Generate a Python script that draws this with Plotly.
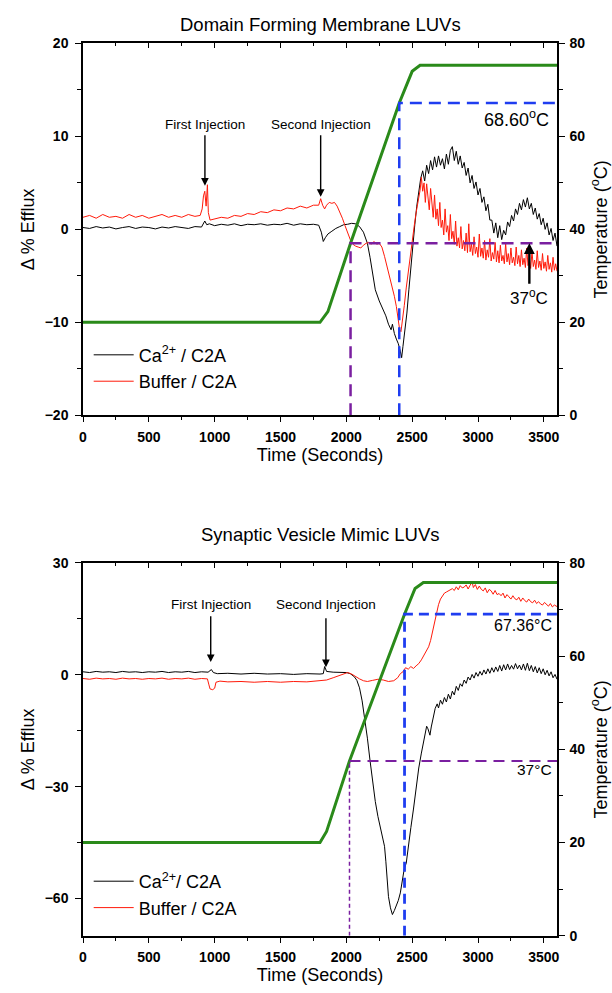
import plotly.graph_objects as go

# ---------------- data: top panel (Domain Forming Membrane LUVs) ----------------
top_ca_t = [0,50,100,150,200,250,300,350,400,450,500,550,600,650,700,750,800,850,900,925,940,960,
            1000,1050,1100,1150,1200,1250,1300,1350,1400,1450,1500,1550,1600,1650,1700,1750,1790,1810,1825,1840,1860,1890,1920,1950,1980,
            2010,2040,2070,2100,2130,2160,2180,2200,2220,2250,2280,2300,2320,2340,2350,2365,2380,2395,2410,2420,2430,2445,2460,2475,2490,
            2505,2520,2535,2550,2565,2580,2595,2610,2625,2640,2655,2670,2685,2700,2715,2730,2745,2760,2775,2790,2805,2820,2835,2850,2865,
            2880,2895,2910,2925,2940,2955,2970,2985,3000,3015,3030,3045,3060,3075,3090,3105,3120,3135,3150,3165,3180,3195,3210,3225,3240,
            3255,3270,3285,3300,3315,3330,3345,3360,3375,3390,3405,3420,3435,3450,3465,3480,3495,3510,3525,3540,3555,3570,3585,3600]
top_ca_v = [0.2,0.1,0.3,0.15,0.25,0.05,0.2,0.3,0.1,0.25,0.2,0.05,0.25,0.15,0.3,0.2,0.1,0.3,0.25,0.9,0.5,0.6,
            0.4,0.55,0.45,0.6,0.4,0.55,0.5,0.6,0.45,0.55,0.5,0.65,0.45,0.6,0.5,0.55,0.45,-0.3,-1.3,-0.9,-0.5,-0.2,0.1,0.3,0.5,
            0.55,0.65,0.6,0.3,-0.3,-1.5,-3.0,-5.0,-6.5,-7.7,-8.7,-9.3,-10.2,-10.8,-10.2,-11.2,-11.8,-12.3,-13.1,-13.8,-12.6,-11.0,-9.0,-6.5,-4.0,
            -1.5,0.5,2.5,4.0,5.5,6.3,5.2,6.9,6.0,7.4,6.4,7.8,6.7,7.9,6.9,7.6,6.5,8.1,7.0,8.5,8.9,7.4,8.4,7.0,7.9,
            6.6,7.2,5.8,6.6,5.0,5.8,4.4,5.1,3.7,4.4,2.9,3.5,2.0,2.7,1.0,1.0,-0.4,0.7,-0.9,0.4,-1.1,-0.1,-0.6,0.8,0.3,
            1.5,0.9,2.2,1.6,2.8,2.1,3.2,2.4,3.4,2.2,2.8,1.6,2.3,1.1,1.7,0.5,1.2,0.0,0.7,-0.6,0.1,-1.2,-0.4,-1.8]

top_buf_t = [0,50,100,150,200,250,300,350,400,450,500,550,600,650,700,750,800,850,890,905,915,925,935,945,952,965,
             1000,1050,1100,1150,1200,1250,1300,1350,1400,1450,1500,1550,1600,1650,1700,1750,1790,1805,1820,1835,1850,1870,1890,1910,1930,
             1950,1970,1990,2010,2030,2050,2070,2090,2110,2130,2150,2170,2190,2210,2230,2250,2270,2290,2310,2330,2350,2365,2380,2395,2405,
             2415,2425,2440,2455,2470,2485,2500,2515,2530,2545,2560,2570,2580,2590,2600,2610,2620,2630,2640,2650,2660,2670,2680,2690,2700,
             2710,2720,2730,2740,2750,2760,2770,2780,2790,2800,2810,2820,2830,2840,2850,2860,2870,2880,2890,2900,2910,2920,2930,2940,2950,
             2960,2970,2980,2990,3000,3010,3020,3030,3040,3050,3060,3070,3080,3090,3100,3110,3120,3130,3140,3150,3160,3170,3180,3190,3200,
             3210,3220,3230,3240,3250,3260,3270,3280,3290,3300,3310,3320,3330,3340,3350,3360,3370,3380,3390,3400,3410,3420,3430,3440,3450,
             3460,3470,3480,3490,3500,3510,3520,3530,3540,3550,3560,3570,3580,3590,3600]
top_buf_v = [1.3,1.5,1.2,1.6,1.3,1.4,1.2,1.6,1.3,1.5,1.2,1.4,1.6,1.3,1.5,1.3,1.6,1.4,1.5,2.2,3.6,4.1,2.5,4.8,1.8,1.0,
             1.1,1.3,1.2,1.5,1.4,1.7,1.6,1.9,1.8,2.1,2.0,2.3,2.2,2.5,2.3,2.6,2.6,3.3,2.6,2.2,2.6,2.9,2.8,2.9,2.5,
             1.9,1.2,0.4,-0.4,-1.1,-1.6,-1.8,-1.9,-2.0,-1.7,-1.5,-1.4,-1.6,-1.3,-1.6,-1.5,-1.9,-2.9,-4.0,-5.0,-6.2,-7.2,-8.3,-9.8,-10.8,
             -11.0,-10.0,-8.2,-6.3,-4.5,-2.8,-1.2,0.3,1.8,3.0,4.2,5.6,4.1,5.0,2.9,4.9,3.6,2.1,4.4,2.4,1.3,3.7,1.1,2.2,0.4,
             2.9,0.2,1.0,-0.6,2.2,-0.3,0.4,-1.2,1.6,-1.0,-0.2,-1.6,0.9,-1.8,-0.9,-2.0,0.3,-2.1,-1.2,-2.3,-0.4,-2.5,0.6,-2.4,-1.6,
             -2.8,-0.8,-2.6,-1.9,-3.0,-0.5,-2.9,-2.0,-3.1,-1.2,-3.3,-2.2,-3.0,-1.0,-3.4,-2.5,-3.2,-1.4,-3.5,-2.3,-3.6,-1.7,-3.4,-2.8,-3.7,
             -1.5,-3.5,-2.6,-3.8,-2.0,-3.6,-3.0,-3.9,-1.9,-3.7,-2.8,-4.0,-2.2,-3.8,-3.1,-4.1,-2.0,-3.9,-3.2,-4.2,-2.4,-4.0,-3.3,-4.3,-2.3,
             -4.1,-3.4,-4.4,-2.6,-4.2,-3.5,-4.5,-2.8,-4.3,-3.6,-4.6,-3.0,-4.4,-3.7,-4.5]

top_temp_t = [0, 1800, 1860, 2032, 2402, 2500, 2560, 3600]
top_temp_v = [20, 20, 22.3, 37, 67.2, 74.0, 75.3, 75.3]

top_37_x = [2032, 2032, 3600]
top_37_y = [0, 37, 37]
top_hi_x = [2402, 2402, 3600]
top_hi_y = [0, 67.2, 67.2]

# ---------------- data: bottom panel (Synaptic Vesicle Mimic LUVs) ----------------
bot_ca_t = [0,50,100,150,200,250,300,350,400,450,500,550,600,650,700,750,800,850,900,950,975,990,1020,1100,1200,1300,1400,1500,
            1600,1700,1800,1825,1835,1850,1900,1950,2000,2030,2060,2080,2100,2120,2140,2160,2180,2200,2220,2240,2260,2275,2290,2300,
            2310,2320,2335,2350,2365,2380,2395,2410,2425,2440,2455,2470,2490,2510,2530,2550,2570,2590,2600,2610,2620,2635,2645,2660,
            2675,2690,2700,2715,2730,2745,2760,2775,2790,2805,2820,2835,2850,2865,2880,2895,2910,2925,2940,2955,2970,2985,3000,3015,
            3030,3045,3060,3075,3090,3105,3120,3135,3150,3165,3180,3195,3210,3225,3240,3255,3270,3285,3300,3315,3330,3345,3360,3375,
            3390,3405,3420,3435,3450,3465,3480,3495,3510,3525,3540,3555,3570,3585,3600]
bot_ca_v = [0.8,0.6,0.9,0.7,0.8,0.6,0.9,0.7,0.8,0.6,0.8,0.7,0.9,0.6,0.8,0.7,0.9,0.6,0.8,0.7,1.4,0.6,0.3,0.4,0.2,0.4,0.2,0.3,
            0.1,0.3,0.2,0.3,2.2,0.9,0.7,0.6,0.6,0.3,-0.5,-1.5,-3.5,-7.0,-11.5,-17.0,-23.0,-29.0,-34.0,-38.0,-41.0,-43.0,-46.0,-50.0,
            -55.0,-59.5,-62.5,-64.3,-63.2,-61.8,-60.5,-58.5,-55.5,-52.0,-50.5,-46.0,-41.0,-36.0,-30.0,-25.0,-21.0,-17.5,-16.0,-13.8,-14.5,-16.2,-14.0,-11.0,
            -9.0,-7.8,-8.9,-6.8,-7.9,-6.1,-7.3,-5.2,-6.5,-4.4,-5.4,-3.1,-4.2,-2.4,-3.1,-1.4,-2.3,-0.6,-1.4,0.1,-0.9,0.6,-0.4,0.9,
            -0.1,1.3,0.2,1.6,0.4,1.9,0.7,2.1,0.9,2.5,1.0,2.7,1.3,2.9,1.4,2.5,1.5,3.0,1.6,2.6,1.3,2.9,1.2,3.1,
            1.1,2.5,0.8,2.2,0.5,1.9,0.3,1.6,0.0,1.2,-0.3,0.8,-0.8,0.1,-1.2]

bot_buf_t = [0,50,100,150,200,250,300,350,400,450,500,550,600,650,700,750,800,850,900,945,955,965,985,1000,1010,1040,1100,1200,
             1300,1400,1500,1600,1700,1800,1850,1900,1950,1990,2010,2040,2070,2100,2130,2160,2200,2240,2280,2320,2360,2390,2410,2430,
             2450,2470,2490,2510,2530,2550,2570,2590,2610,2625,2640,2655,2670,2685,2700,2715,2730,2745,2760,2775,2790,2805,2820,2835,
             2850,2865,2880,2895,2910,2925,2940,2955,2965,2980,2995,3010,3025,3040,3055,3070,3085,3100,3115,3130,3145,3160,3175,3190,
             3205,3220,3235,3250,3265,3280,3295,3310,3325,3340,3355,3370,3385,3400,3415,3430,3445,3460,3475,3490,3505,3520,3535,3550,
             3565,3580,3600]
bot_buf_v = [-1.0,-1.2,-0.9,-1.1,-1.0,-1.2,-0.9,-1.1,-1.0,-1.2,-1.0,-1.1,-0.9,-1.2,-1.0,-1.1,-0.9,-1.2,-1.0,-1.1,-2.5,-3.8,-4.0,-3.6,-2.0,-1.7,-1.9,-1.8,
             -2.0,-1.8,-2.0,-1.8,-1.9,-1.7,-1.4,-0.8,-0.2,0.4,0.6,0.2,-0.5,-1.1,-1.6,-1.8,-1.5,-1.2,-1.4,-1.8,-1.6,-0.8,0.3,0.8,
             1.9,1.5,2.2,1.7,2.4,3.0,4.0,5.3,6.3,7.5,9.2,11.8,14.5,17.0,18.8,20.3,21.0,21.9,22.2,22.5,22.8,23.1,22.6,23.6,
             22.8,23.9,23.3,23.5,24.1,23.0,24.0,24.9,23.4,24.2,22.9,23.8,22.9,22.5,23.3,22.0,22.9,22.5,21.6,22.6,21.5,21.8,21.2,21.9,
             20.6,21.5,20.9,20.3,21.2,20.4,20.1,20.8,19.7,20.6,19.9,19.5,20.3,19.6,19.3,20.0,19.1,19.6,19.0,18.7,19.4,18.8,18.4,19.1,
             18.2,18.7,18.3]

bot_temp_t = [0, 1800, 1850, 2024, 2442, 2522, 2585, 3600]
bot_temp_v = [20, 20, 22.4, 37.5, 69.0, 74.5, 75.8, 75.8]

bot_37_x = [2024, 2024, 3600]
bot_37_y = [0, 37.5, 37.5]
bot_hi_x = [2442, 2442, 3600]
bot_hi_y = [0, 69.0, 69.0]

x_ticks = [0, 500, 1000, 1500, 2000, 2500, 3000, 3500]

# ---------------- styling ----------------
FONT = "Liberation Sans, Arial, sans-serif"
BLACK = "#000000"
RED = "#ff1a0a"
GREEN = "#2a8a1a"
BLUE = "#1f3df0"
PURPLE = "#7a1fa0"

fig = go.Figure()

# top panel
fig.add_trace(go.Scatter(x=top_ca_t, y=top_ca_v, mode="lines", name="Ca<sup>2+</sup> / C2A",
                         line=dict(color=BLACK, width=1), xaxis="x", yaxis="y", legend="legend"))
fig.add_trace(go.Scatter(x=top_buf_t, y=top_buf_v, mode="lines", name="Buffer / C2A",
                         line=dict(color=RED, width=1), xaxis="x", yaxis="y", legend="legend"))
fig.add_trace(go.Scatter(x=top_temp_t, y=top_temp_v, mode="lines", showlegend=False,
                         line=dict(color=GREEN, width=3), xaxis="x", yaxis="y2"))
fig.add_trace(go.Scatter(x=top_37_x, y=top_37_y, mode="lines", showlegend=False,
                         line=dict(color=PURPLE, width=2.5, dash="12px,7px"), xaxis="x", yaxis="y2"))
fig.add_trace(go.Scatter(x=top_hi_x, y=top_hi_y, mode="lines", showlegend=False,
                         line=dict(color=BLUE, width=2.5, dash="12px,7px"), xaxis="x", yaxis="y2"))
fig.add_trace(go.Scatter(x=[None], y=[None], mode="lines", showlegend=False, xaxis="x3", yaxis="y"))

# bottom panel
fig.add_trace(go.Scatter(x=bot_ca_t, y=bot_ca_v, mode="lines", name="Ca<sup>2+</sup>/ C2A",
                         line=dict(color=BLACK, width=1), xaxis="x2", yaxis="y3", legend="legend2"))
fig.add_trace(go.Scatter(x=bot_buf_t, y=bot_buf_v, mode="lines", name="Buffer / C2A",
                         line=dict(color=RED, width=1), xaxis="x2", yaxis="y3", legend="legend2"))
fig.add_trace(go.Scatter(x=bot_temp_t, y=bot_temp_v, mode="lines", showlegend=False,
                         line=dict(color=GREEN, width=3), xaxis="x2", yaxis="y4"))
fig.add_trace(go.Scatter(x=bot_37_x[1:], y=bot_37_y[1:], mode="lines", showlegend=False,
                         line=dict(color=PURPLE, width=1.8, dash="11px,7px"), xaxis="x2", yaxis="y4"))
fig.add_trace(go.Scatter(x=bot_37_x[:2], y=bot_37_y[:2], mode="lines", showlegend=False,
                         line=dict(color=PURPLE, width=1.5, dash="4px,3px"), xaxis="x2", yaxis="y4"))
fig.add_trace(go.Scatter(x=bot_hi_x, y=bot_hi_y, mode="lines", showlegend=False,
                         line=dict(color=BLUE, width=2.8, dash="10px,6px"), xaxis="x2", yaxis="y4"))
fig.add_trace(go.Scatter(x=[None], y=[None], mode="lines", showlegend=False, xaxis="x4", yaxis="y3"))

tickfont = dict(family=FONT, size=14, color=BLACK, weight="bold")
titlefont = dict(family=FONT, size=18, color=BLACK)


def xax(anchor, title):
    return dict(domain=[0, 1], anchor=anchor, range=[0, 3600], tickvals=x_ticks,
                ticks="outside", ticklen=5, tickwidth=1.3, tickcolor=BLACK,
                minor=dict(dtick=250, tick0=0, ticks="outside", ticklen=3, tickwidth=1.2, tickcolor=BLACK, showgrid=False),
                showline=True, linecolor=BLACK, linewidth=1.5, showgrid=False, zeroline=False,
                tickfont=tickfont, ticklabelstandoff=3,
                title=dict(text=title, font=titlefont, standoff=3))


def xtop(over, anchor):
    return dict(overlaying=over, anchor=anchor, side="top", range=[0, 3600], tickvals=x_ticks,
                ticks="inside", ticklen=5, tickwidth=1.3, tickcolor=BLACK,
                minor=dict(dtick=250, tick0=0, ticks="inside", ticklen=3, tickwidth=1.2, tickcolor=BLACK, showgrid=False),
                showticklabels=False, showline=True, linecolor=BLACK, linewidth=1.5,
                showgrid=False, zeroline=False)


def yleft(domain, anchor, rng, dtick, mdtick):
    return dict(domain=domain, anchor=anchor, range=rng, dtick=dtick, tick0=0,
                ticks="outside", ticklen=6, tickwidth=1.3, tickcolor=BLACK,
                minor=dict(dtick=mdtick, tick0=0, ticks="outside", ticklen=4, tickwidth=1.2, tickcolor=BLACK, showgrid=False),
                showline=True, linecolor=BLACK, linewidth=1.5, showgrid=False, zeroline=False,
                tickfont=tickfont, ticklabelstandoff=4,
                title=dict(text="\u0394 % Efflux", font=titlefont, standoff=5))


def yright(over, anchor):
    return dict(overlaying=over, anchor=anchor, side="right", range=[0, 80], dtick=20, tick0=0,
                ticks="outside", ticklen=6, tickwidth=1.3, tickcolor=BLACK,
                minor=dict(dtick=10, tick0=0, ticks="outside", ticklen=4, tickwidth=1.2, tickcolor=BLACK, showgrid=False),
                showline=True, linecolor=BLACK, linewidth=1.5, showgrid=False, zeroline=False,
                tickfont=tickfont, ticklabelstandoff=2,
                title=dict(text="Temperature (<sup>o</sup>C)", font=titlefont, standoff=10))


top_dom = [1 - 414 / 993, 1 - 36 / 993]
bot_dom = [1 - 943 / 993, 1 - 564 / 993]

legend_common = dict(font=dict(family=FONT, size=18, color=BLACK), bgcolor="rgba(0,0,0,0)",
                     borderwidth=0, itemwidth=40, xanchor="left", yanchor="top", tracegroupgap=0)

ann_font = dict(family=FONT, size=13.5, color=BLACK)
annotations = [
    # titles
    dict(text="Domain Forming Membrane LUVs", xref="paper", yref="paper", x=0.5, y=1 - 17 / 993,
         showarrow=False, font=dict(family=FONT, size=18.5, color=BLACK), xanchor="center", yanchor="middle"),
    dict(text="Synaptic Vesicle Mimic LUVs", xref="paper", yref="paper", x=0.5, y=1 - 535 / 993,
         showarrow=False, font=dict(family=FONT, size=18.5, color=BLACK), xanchor="center", yanchor="middle"),
    # top injections (text at arrow tail, arrow to tip)
    dict(text="First Injection", xref="x", yref="y", x=926, y=4.7, ax=926, ay=11.3, axref="x", ayref="y",
         showarrow=True, arrowhead=2, arrowsize=1.1, arrowwidth=1.4, arrowcolor=BLACK, standoff=0, startstandoff=2,
         font=ann_font),
    dict(text="Second Injection", xref="x", yref="y", x=1805, y=3.5, ax=1805, ay=11.3, axref="x", ayref="y",
         showarrow=True, arrowhead=2, arrowsize=1.1, arrowwidth=1.4, arrowcolor=BLACK, standoff=0, startstandoff=2,
         font=ann_font),
    dict(text="68.60<sup>o</sup>C", xref="x", yref="y2", x=3555, y=63.9, showarrow=False,
         xanchor="right", yanchor="middle", font=dict(family=FONT, size=18, color=BLACK)),
    dict(text="37<sup>o</sup>C", xref="x", yref="y2", x=3390, y=37, ax=3390, ay=25.4, axref="x", ayref="y2",
         showarrow=True, arrowhead=2, arrowsize=0.9, arrowwidth=2.4, arrowcolor=BLACK, standoff=0, startstandoff=1,
         font=dict(family=FONT, size=17, color=BLACK)),
    # bottom injections
    dict(text="First Injection", xref="x2", yref="y3", x=970, y=3.4, ax=970, ay=18.9, axref="x2", ayref="y3",
         showarrow=True, arrowhead=2, arrowsize=1.1, arrowwidth=1.4, arrowcolor=BLACK, standoff=0, startstandoff=3,
         font=ann_font),
    dict(text="Second Injection", xref="x2", yref="y3", x=1845, y=2.0, ax=1845, ay=18.9, axref="x2", ayref="y3",
         showarrow=True, arrowhead=2, arrowsize=1.1, arrowwidth=1.4, arrowcolor=BLACK, standoff=0, startstandoff=5,
         font=ann_font),
    dict(text="67.36\u00b0C", xref="x2", yref="y4", x=3578, y=66.5, showarrow=False,
         xanchor="right", yanchor="middle", font=dict(family=FONT, size=16, color=BLACK)),
    dict(text="37\u00b0C", xref="x2", yref="y4", x=3578, y=35.7, showarrow=False,
         xanchor="right", yanchor="middle", font=dict(family=FONT, size=15.5, color=BLACK)),
]

fig.update_layout(
    width=612, height=993,
    margin=dict(l=83, r=55, t=0, b=0, pad=0),
    paper_bgcolor="white", plot_bgcolor="white",
    font=dict(family=FONT, color=BLACK),
    xaxis=xax("y", "Time (Seconds)"),
    xaxis2=xax("y3", "Time (Seconds)"),
    xaxis3=xtop("x", "y"),
    xaxis4=xtop("x2", "y3"),
    yaxis=yleft(top_dom, "x", [-20, 20], 10, 5),
    yaxis2=yright("y", "x"),
    yaxis3=yleft(bot_dom, "x2", [-70, 30], 30, 15),
    yaxis4=yright("y3", "x2"),
    legend=dict(x=0.012, y=1 - 334 / 993, **legend_common),
    legend2=dict(x=0.012, y=1 - 869 / 993, **legend_common),
    annotations=annotations,
    showlegend=True,
)

fig.write_html("out.html")
